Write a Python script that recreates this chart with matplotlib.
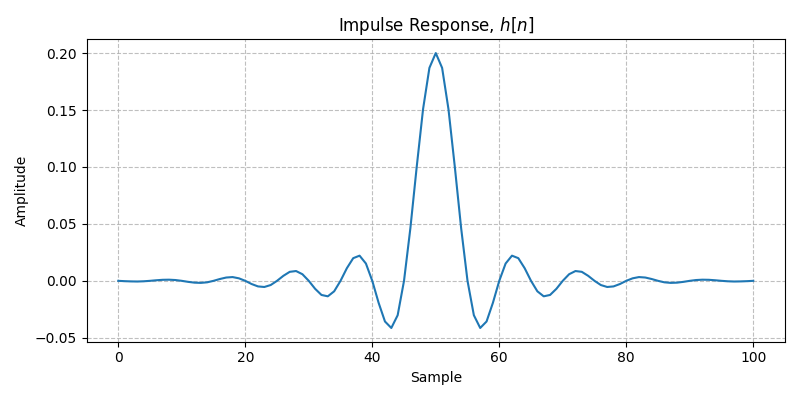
import matplotlib
matplotlib.use("Agg")
import matplotlib.pyplot as plt
import numpy as np

# impulse response values, samples 0..100
h_left = [0.0000, -0.0003, -0.0005, -0.0006, -0.0004, 0.0000, 0.0005, 0.0009, 0.0010, 0.0007,
          0.0000, -0.0009, -0.0016, -0.0018, -0.0013, 0.0000, 0.0016, 0.0029, 0.0033, 0.0022,
          0.0000, -0.0028, -0.0049, -0.0054, -0.0037, 0.0000, 0.0044, 0.0079, 0.0086, 0.0058,
          0.0000, -0.0070, -0.0124, -0.0136, -0.0092, 0.0000, 0.0111, 0.0199, 0.0221, 0.0152,
          0.0000, -0.0193, -0.0357, -0.0414, -0.0302, 0.0000, 0.0461, 0.1001, 0.1508, 0.1870]
h_center = [0.2000]
h_right = [0.1870, 0.1508, 0.1001, 0.0461, 0.0000, -0.0302, -0.0414, -0.0357, -0.0193, 0.0000,
           0.0152, 0.0221, 0.0199, 0.0111, 0.0000, -0.0092, -0.0136, -0.0124, -0.0070, 0.0000,
           0.0058, 0.0086, 0.0079, 0.0044, 0.0000, -0.0037, -0.0054, -0.0049, -0.0028, 0.0000,
           0.0022, 0.0033, 0.0029, 0.0016, 0.0000, -0.0013, -0.0018, -0.0016, -0.0009, 0.0000,
           0.0007, 0.0010, 0.0009, 0.0005, 0.0000, -0.0004, -0.0006, -0.0005, -0.0003, 0.0000]

h = np.array(h_left + h_center + h_right)
n = np.arange(len(h))

fig, ax = plt.subplots(figsize=(8, 4), dpi=100)
ax.plot(n, h)
ax.set_title("Impulse Response, $h[n]$")
ax.set_xlabel("Sample")
ax.set_ylabel("Amplitude")
ax.grid(True, linestyle="--", alpha=0.8)
fig.tight_layout()
fig.savefig("out.png")
